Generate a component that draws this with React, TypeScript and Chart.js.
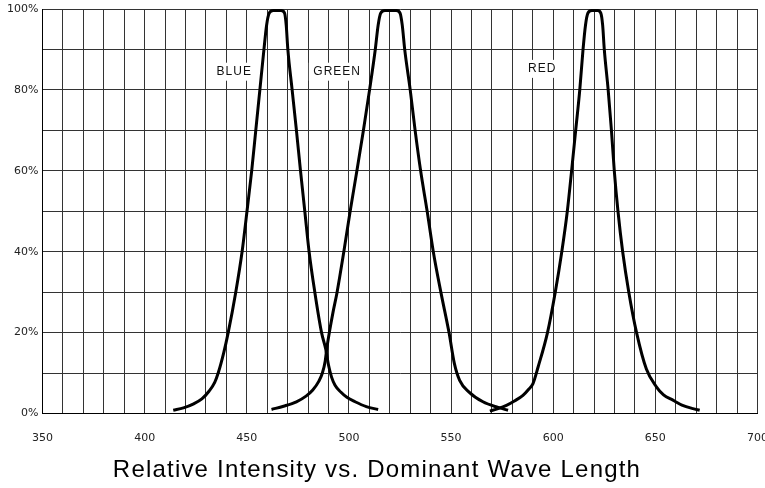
import React, { useEffect, useRef } from 'react';
import { Chart, registerables } from 'chart.js';

Chart.register(...registerables);

// ---- data ----
const blueNm = [414, 419, 424, 428, 431.5, 434.3, 436.0, 438.7, 440.9, 444.6, 447.7, 450.1, 452.4, 454.4, 456.4, 458.4, 459.7, 461.0, 463.0, 466.8, 468.5, 469.3, 470.1, 472.2, 474.3, 476.3, 478.4, 480.5, 483.3, 486.6, 488.6, 490.0, 491.5, 493.2, 496.0, 499.0, 503.0, 508.5, 514.3];
const blueInt = [0.8, 1.4, 2.4, 3.6, 5.5, 7.7, 10, 15, 20, 30, 40, 50, 60, 70, 80, 90, 96, 99, 99.6, 99.6, 99, 96, 90, 80, 70, 60, 50, 40, 30, 20, 16, 12, 9, 7, 5.3, 4, 2.9, 1.7, 1];

const greenNm = [462.1, 468, 474.3, 479, 482.3, 485.3, 487.0, 488.4, 489.2, 490.4, 492.2, 494.2, 497.5, 500.6, 503.9, 507.1, 510.1, 512.9, 514.3, 515.6, 517.6, 523.2, 525.0, 526.1, 527.3, 530, 532.4, 535.1, 538.3, 541.3, 545, 549, 551.6, 554.2, 558.8, 565.6, 573, 577.9];
const greenInt = [1, 1.8, 2.9, 4.3, 5.8, 8, 10, 13, 16.2, 20, 25, 30, 40, 50, 60, 70, 80, 90, 96, 99, 99.6, 99.6, 99, 96, 90, 80, 70, 60, 50, 40, 30, 20, 12.4, 8.2, 5.3, 2.9, 1.5, 0.8];

const redNm = [569, 573, 577.1, 581, 585.2, 588, 590.1, 592.6, 597.2, 601, 604.2, 606.9, 609.0, 611.0, 613, 614.6, 615.8, 617.0, 618.9, 621.8, 623.3, 624.2, 625.0, 626.9, 628.5, 629.9, 631.7, 634.0, 637.0, 640.8, 645.6, 650.5, 654, 658.6, 663, 668.4, 671.7];
const redInt = [0.6, 1.2, 2, 3.1, 4.5, 6, 7.4, 11.5, 20, 30, 40, 50, 60, 70, 80, 90, 96, 99, 99.6, 99.6, 99, 96, 90, 80, 70, 60, 50, 40, 30, 20, 11, 6.6, 4.6, 3.3, 2.1, 1.2, 0.8];

const curveLabels = ['BLUE', 'GREEN', 'RED'];
const curveLabelNm = [443.6, 494.0, 594.4];
const curveLabelInt = [84.5, 84.5, 85.2];

const xLabeledTicks = [350, 400, 450, 500, 550, 600, 650, 700];
const yLabeledTicks = [0, 20, 40, 60, 80, 100];
const chartTitle = 'Relative Intensity vs. Dominant Wave Length';

const toPoints = (xs: number[], ys: number[]) => xs.map((x, i) => ({ x, y: ys[i] }));

const annotationPlugin = {
  id: 'curveLabelsAndTitle',
  beforeDatasetsDraw(chart: any) {
    const { ctx, scales } = chart;
    const xs = scales.x;
    const ys = scales.y;
    ctx.save();
    ctx.font = '12px "Liberation Sans", Arial, sans-serif';
    (ctx as any).letterSpacing = '1px';
    ctx.textAlign = 'center';
    ctx.textBaseline = 'middle';
    curveLabels.forEach((t, i) => {
      const px = xs.getPixelForValue(curveLabelNm[i]);
      const py = ys.getPixelForValue(curveLabelInt[i]);
      const w = ctx.measureText(t).width;
      ctx.fillStyle = '#ffffff';
      ctx.fillRect(px - w / 2 - 4, py - 9, w + 8, 18);
      ctx.fillStyle = '#111111';
      ctx.fillText(t, px + 0.5, py);
    });
    ctx.restore();
  },
  afterDraw(chart: any) {
    const { ctx } = chart;
    ctx.save();
    ctx.font = '24px "Liberation Sans", Arial, sans-serif';
    (ctx as any).letterSpacing = '1.2px';
    ctx.textAlign = 'center';
    ctx.textBaseline = 'alphabetic';
    ctx.fillStyle = '#000000';
    ctx.fillText(chartTitle, 377, 477);
    ctx.restore();
  },
};

export default function App() {
  const canvasRef = useRef<HTMLCanvasElement | null>(null);

  useEffect(() => {
    if (!canvasRef.current) return;
    const lineStyle = {
      showLine: true,
      borderColor: '#000000',
      backgroundColor: '#000000',
      borderWidth: 3,
      pointRadius: 0,
      cubicInterpolationMode: 'monotone' as const,
      fill: false,
    };
    const chart = new Chart(canvasRef.current, {
      type: 'scatter',
      data: {
        datasets: [
          { label: 'BLUE', data: toPoints(blueNm, blueInt), ...lineStyle },
          { label: 'GREEN', data: toPoints(greenNm, greenInt), ...lineStyle },
          { label: 'RED', data: toPoints(redNm, redInt), ...lineStyle },
        ],
      },
      options: {
        animation: false,
        responsive: false,
        devicePixelRatio: 1,
        events: [],
        layout: { padding: { left: 0, right: 7.5, top: 9, bottom: 0 } },
        plugins: {
          legend: { display: false },
          tooltip: { enabled: false },
          title: { display: false },
        },
        scales: {
          x: {
            type: 'linear',
            min: 350,
            max: 700,
            grid: { color: '#333333', lineWidth: 1, drawTicks: false },
            border: { display: true, color: '#000000', width: 1 },
            ticks: {
              stepSize: 10,
              autoSkip: false,
              maxRotation: 0,
              padding: 18,
              color: '#222222',
              font: { family: '"DejaVu Sans", sans-serif', size: 11 },
              callback: (v: any) => (xLabeledTicks.includes(Number(v)) ? String(v) : ''),
            },
            afterFit: (scale: any) => {
              scale.height = 74.5;
              scale.paddingLeft = 0;
              scale.paddingRight = 0;
            },
          },
          y: {
            type: 'linear',
            min: 0,
            max: 100,
            grid: { color: '#333333', lineWidth: 1, drawTicks: false },
            border: { display: true, color: '#000000', width: 1 },
            ticks: {
              stepSize: 10,
              autoSkip: false,
              padding: 4,
              color: '#222222',
              font: { family: '"DejaVu Sans", sans-serif', size: 11 },
              callback: (v: any) => (yLabeledTicks.includes(Number(v)) ? v + '%' : ''),
            },
            afterFit: (scale: any) => {
              scale.width = 42.5;
              scale.paddingTop = 0;
              scale.paddingBottom = 0;
            },
          },
        },
      },
      plugins: [annotationPlugin],
    });
    return () => chart.destroy();
  }, []);

  return (
    <div style={{ position: 'fixed', left: 0, top: 0, width: 765, height: 488, background: '#fff' }}>
      <canvas ref={canvasRef} width={765} height={488} style={{ display: 'block' }} />
    </div>
  );
}
